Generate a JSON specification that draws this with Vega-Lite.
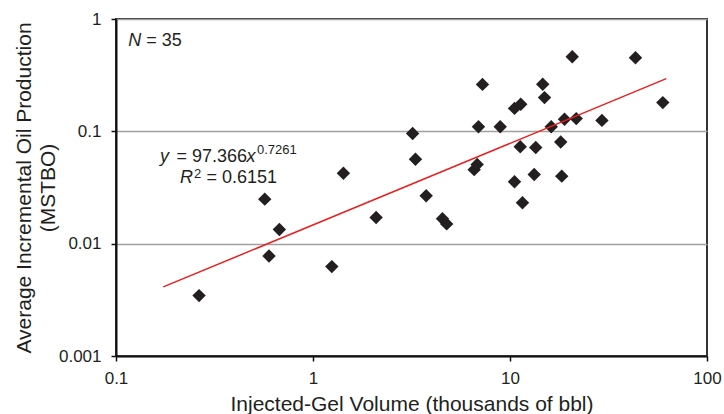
{
  "$schema": "https://vega.github.io/schema/vega-lite/v6.json",
  "width": 591,
  "height": 337,
  "autosize": {"type": "none"},
  "padding": {"left": 116, "top": 19, "right": 17, "bottom": 58},
  "background": "white",
  "config": {
    "font": "Liberation Sans",
    "view": {"stroke": "#333333", "strokeWidth": 2},
    "axis": {
      "labelFont": "Liberation Sans",
      "titleFont": "Liberation Sans",
      "labelFontSize": 17,
      "titleFontSize": 21,
      "titleFontWeight": "normal",
      "labelColor": "#231f20",
      "titleColor": "#231f20",
      "domainColor": "#111111",
      "domainWidth": 2,
      "tickColor": "#111111",
      "tickWidth": 1.5,
      "tickSize": 5,
      "labelPadding": 9,
      "labelFlush": false,
      "labelOverlap": false
    }
  },
  "datasets": {
    "points": [
      {"volume": 0.264, "oil": 0.00345},
      {"volume": 0.569, "oil": 0.0249},
      {"volume": 0.598, "oil": 0.00777},
      {"volume": 0.675, "oil": 0.01335},
      {"volume": 1.246, "oil": 0.00625},
      {"volume": 1.427, "oil": 0.0424},
      {"volume": 2.091, "oil": 0.0171},
      {"volume": 3.204, "oil": 0.0958},
      {"volume": 3.312, "oil": 0.0565},
      {"volume": 3.753, "oil": 0.0267},
      {"volume": 4.541, "oil": 0.0167},
      {"volume": 4.77, "oil": 0.015},
      {"volume": 6.579, "oil": 0.0456},
      {"volume": 6.814, "oil": 0.0507},
      {"volume": 6.918, "oil": 0.1097},
      {"volume": 7.25, "oil": 0.2618},
      {"volume": 8.918, "oil": 0.1097},
      {"volume": 10.54, "oil": 0.16},
      {"volume": 11.34, "oil": 0.174},
      {"volume": 10.54, "oil": 0.0356},
      {"volume": 11.27, "oil": 0.0728},
      {"volume": 11.57, "oil": 0.0231},
      {"volume": 13.27, "oil": 0.0413},
      {"volume": 13.51, "oil": 0.0719},
      {"volume": 14.66, "oil": 0.2624},
      {"volume": 14.97, "oil": 0.1997},
      {"volume": 16.19, "oil": 0.1097},
      {"volume": 18.09, "oil": 0.0804},
      {"volume": 18.31, "oil": 0.0399},
      {"volume": 18.91, "oil": 0.1279},
      {"volume": 20.7, "oil": 0.4613},
      {"volume": 21.69, "oil": 0.1298},
      {"volume": 29.29, "oil": 0.1251},
      {"volume": 43.35, "oil": 0.4518},
      {"volume": 59.66, "oil": 0.1802}
    ],
    "fit": [
      {"volume": 0.1738, "oil": 0.00412},
      {"volume": 62.14, "oil": 0.2943}
    ]
  },
  "layer": [
    {
      "data": {"name": "points"},
      "mark": {"type": "point", "shape": "diamond", "filled": true, "size": 180, "color": "#231f20", "opacity": 1},
      "encoding": {
        "x": {
          "field": "volume", "type": "quantitative",
          "scale": {"type": "log", "domain": [0.1, 100], "nice": false},
          "axis": {"values": [0.1, 1, 10, 100], "format": "~g", "grid": false, "title": "Injected-Gel Volume (thousands of bbl)", "titlePadding": 7}
        },
        "y": {
          "field": "oil", "type": "quantitative",
          "scale": {"type": "log", "domain": [0.001, 1], "nice": false},
          "axis": {"values": [0.001, 0.01, 0.1, 1], "format": "~g", "grid": true, "gridColor": "#a0a0a0", "gridWidth": 1.5, "gridOpacity": 1, "labelPadding": 10, "title": ["Average Incremental Oil Production", "(MSTBO)"], "titleLineHeight": 24, "titlePadding": 0}
        }
      }
    },
    {
      "data": {"name": "fit"},
      "mark": {"type": "line", "color": "#e8201f", "strokeWidth": 1.5},
      "encoding": {
        "x": {"field": "volume", "type": "quantitative"},
        "y": {"field": "oil", "type": "quantitative"}
      }
    },
    {
      "data": {"values": [{"label": "N"}]},
      "mark": {"type": "text", "align": "left", "baseline": "alphabetic", "fontSize": 18, "fontStyle": "italic", "color": "#231f20"},
      "encoding": {"x": {"datum": 0.1155}, "y": {"datum": 0.578}, "text": {"field": "label"}}
    },
    {
      "data": {"values": [{"label": "= 35"}]},
      "mark": {"type": "text", "align": "left", "baseline": "alphabetic", "fontSize": 18, "dx": 18, "color": "#231f20"},
      "encoding": {"x": {"datum": 0.1155}, "y": {"datum": 0.578}, "text": {"field": "label"}}
    },
    {
      "data": {"values": [{"label": "y"}]},
      "mark": {"type": "text", "align": "left", "baseline": "alphabetic", "fontSize": 18, "fontStyle": "italic", "color": "#231f20"},
      "encoding": {"x": {"datum": 0.1673}, "y": {"datum": 0.05349}, "text": {"field": "label"}}
    },
    {
      "data": {"values": [{"label": "= 97.366"}]},
      "mark": {"type": "text", "align": "left", "baseline": "alphabetic", "fontSize": 18, "dx": 16.5, "color": "#231f20"},
      "encoding": {"x": {"datum": 0.1673}, "y": {"datum": 0.05349}, "text": {"field": "label"}}
    },
    {
      "data": {"values": [{"label": "x"}]},
      "mark": {"type": "text", "align": "left", "baseline": "alphabetic", "fontSize": 18, "fontStyle": "italic", "dx": 86.5, "color": "#231f20"},
      "encoding": {"x": {"datum": 0.1673}, "y": {"datum": 0.05349}, "text": {"field": "label"}}
    },
    {
      "data": {"values": [{"label": "0.7261"}]},
      "mark": {"type": "text", "align": "left", "baseline": "alphabetic", "fontSize": 13, "dx": 97, "dy": -7.4, "color": "#231f20"},
      "encoding": {"x": {"datum": 0.1673}, "y": {"datum": 0.05349}, "text": {"field": "label"}}
    },
    {
      "data": {"values": [{"label": "R"}]},
      "mark": {"type": "text", "align": "left", "baseline": "alphabetic", "fontSize": 18, "fontStyle": "italic", "color": "#231f20"},
      "encoding": {"x": {"datum": 0.2113}, "y": {"datum": 0.03475}, "text": {"field": "label"}}
    },
    {
      "data": {"values": [{"label": "2"}]},
      "mark": {"type": "text", "align": "left", "baseline": "alphabetic", "fontSize": 13, "dx": 14, "dy": -5, "color": "#231f20"},
      "encoding": {"x": {"datum": 0.2113}, "y": {"datum": 0.03475}, "text": {"field": "label"}}
    },
    {
      "data": {"values": [{"label": "= 0.6151"}]},
      "mark": {"type": "text", "align": "left", "baseline": "alphabetic", "fontSize": 18, "dx": 26.5, "color": "#231f20"},
      "encoding": {"x": {"datum": 0.2113}, "y": {"datum": 0.03475}, "text": {"field": "label"}}
    }
  ]
}
